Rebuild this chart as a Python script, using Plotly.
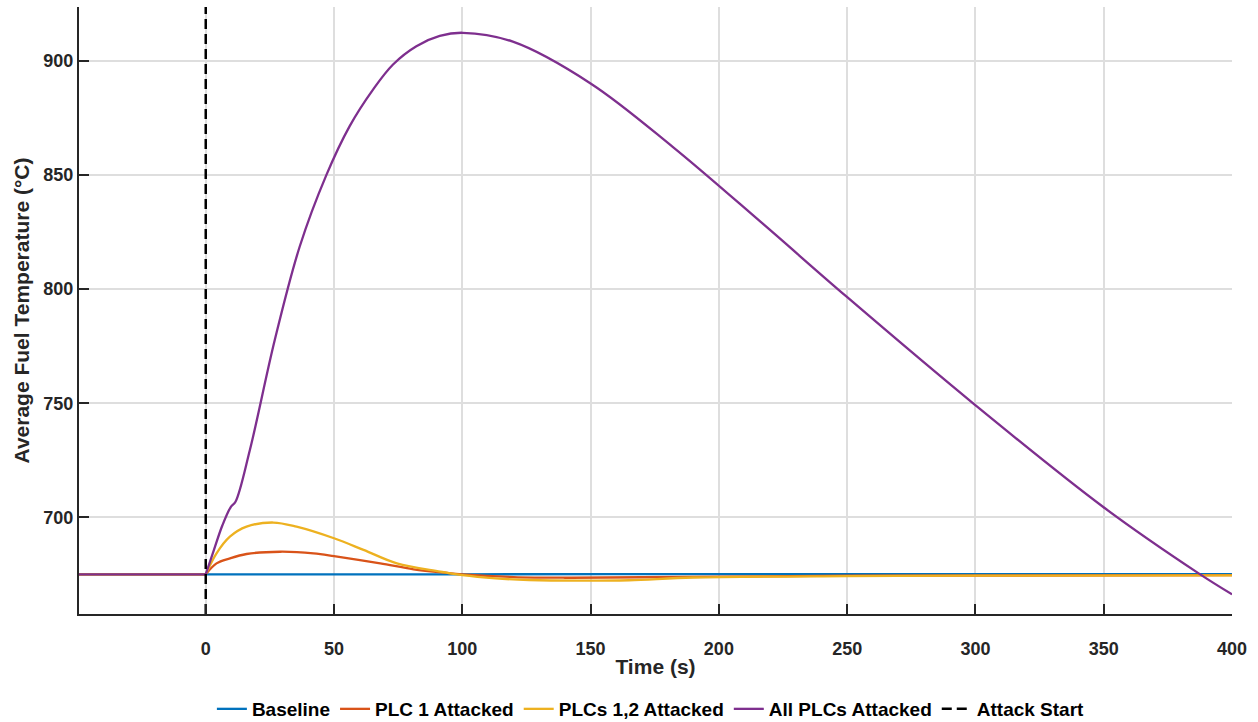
import plotly.graph_objects as go

# ---- data ----
pre_t = [-49.4, 0]
steady_T = 675

baseline_t = [0, 100, 200, 300, 400]
baseline_T = [675, 675, 675.1, 675.1, 675.1]

plc1_t = [0, 4.2, 9.4, 15.9, 29, 42, 50, 68, 81, 94, 100, 120, 140, 170, 250, 400]
plc1_T = [675, 679.8, 682, 683.9, 684.9, 684.2, 683, 679.8, 677.2, 675.6, 675.0, 673.8, 673.5, 673.7, 674.4, 674.6]

plc12_t = [0, 4.2, 9.4, 15.9, 26.3, 35.4, 50, 61.5, 74.5, 91.4, 100, 113, 126, 145, 165, 190, 250, 300, 400]
plc12_T = [675, 684.2, 691.5, 695.9, 697.7, 695.9, 690.8, 685.7, 679.8, 676.2, 674.6, 673.2, 672.5, 672.2, 672.4, 673.6, 674.2, 674.4, 674.5]

all_t = [0, 3.2, 6.5, 9.8, 11.6, 17.2, 26.9, 36.6, 47, 56.1, 65.2, 73, 82.1, 91.2, 100.2, 119.7,
         150, 182, 217, 249.8, 299.8, 349.7, 387, 400]
all_T = [675, 685.7, 696.5, 704.6, 706.8, 729.5, 777.7, 818.6, 850, 871.5, 887.5, 898.5, 906.5, 911.0, 912.4, 908.5,
         890.2, 862.4, 828.8, 796.7, 749.3, 704.6, 675.4, 666.2]

attack_time = 0
x_range = [-49.4, 400]
y_range = [657.6, 923.7]
x_ticks = [0, 50, 100, 150, 200, 250, 300, 350, 400]
y_ticks = [700, 750, 800, 850, 900]

names = ["Baseline", "PLC 1 Attacked", "PLCs 1,2 Attacked", "All PLCs Attacked"]
colors = ["#0072BD", "#D95319", "#EDB120", "#7E2F8E"]
series = [(baseline_t, baseline_T), (plc1_t, plc1_T), (plc12_t, plc12_T), (all_t, all_T)]

FONT = "Liberation Sans, Arial, Helvetica, sans-serif"
TXT = "#262626"

fig = go.Figure()
for (t, T), n, c in zip(series, names, colors):
    fig.add_trace(go.Scatter(x=pre_t, y=[steady_T] * len(pre_t), mode="lines", name=n,
                             legendgroup=n, showlegend=False, hoverinfo="skip",
                             line=dict(color=c, width=2.3)))
    fig.add_trace(go.Scatter(x=t, y=T, mode="lines", name=n, legendgroup=n,
                             line=dict(color=c, width=2.3, shape="spline", smoothing=1.0)))

fig.add_trace(go.Scatter(x=[attack_time, attack_time], y=y_range, mode="lines", name="Attack Start",
                         line=dict(color="black", width=2.5, dash="10px,5px")))

axis_common = dict(
    showline=True, linecolor=TXT, linewidth=2,
    ticks="inside", ticklen=10, tickwidth=2, tickcolor=TXT,
    showgrid=True, gridcolor="#dedede", gridwidth=2,
    zeroline=False, automargin=False,
    tickfont=dict(family=FONT, size=18, color=TXT, weight="bold"),
    mirror=False,
)

fig.update_xaxes(range=x_range, tickvals=x_ticks, ticklabelstandoff=17, **axis_common,
                 title=dict(text="Time (s)", font=dict(family=FONT, size=21, color=TXT, weight="bold"), standoff=2))
fig.update_yaxes(range=y_range, tickvals=y_ticks, **axis_common,
                 title=dict(text="Average Fuel Temperature (°C)", font=dict(family=FONT, size=21, color=TXT, weight="bold"), standoff=8))

fig.update_layout(
    width=1258, height=722,
    margin=dict(l=79, r=26, t=7, b=108, autoexpand=False),
    plot_bgcolor="white", paper_bgcolor="white",
    font=dict(family=FONT, color=TXT, weight="bold"),
    showlegend=True,
    legend=dict(orientation="h", x=0.496, xanchor="center", y=-0.1565, yanchor="middle",
                font=dict(family=FONT, size=19, color="black", weight="bold"),
                bgcolor="rgba(0,0,0,0)", itemwidth=30),
)

fig.write_html("out.html")
